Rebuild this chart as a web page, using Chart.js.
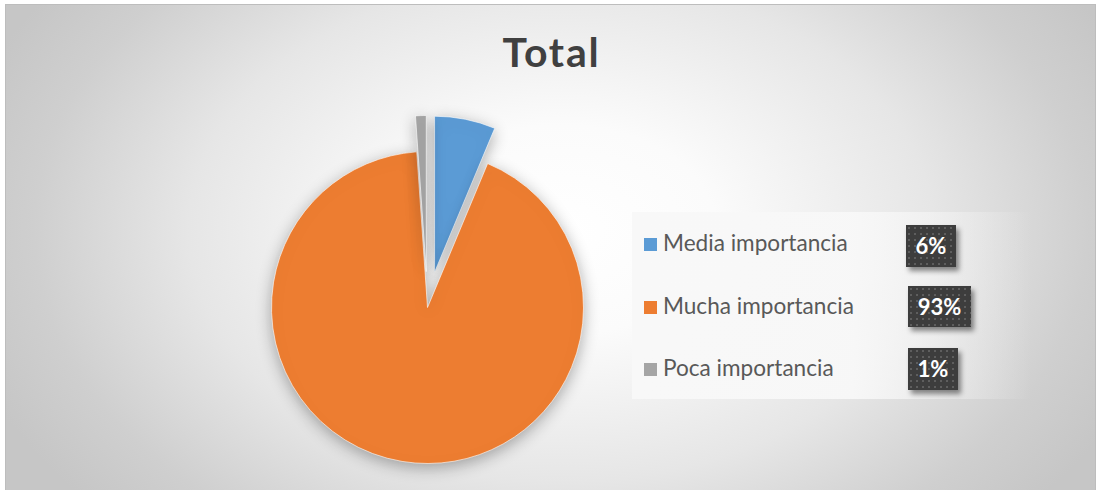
<!DOCTYPE html>
<html>
<head>
<meta charset="utf-8">
<script src="https://cdn.jsdelivr.net/npm/chart.js@4.4.1/dist/chart.umd.min.js"></script>
<style>
  html, body { margin:0; padding:0; width:1097px; height:490px; overflow:hidden; background:#ffffff; font-family: Lato, "Open Sans", sans-serif; }
  #frame { position:absolute; left:5px; top:4px; width:1089px; height:500px; border:1px solid #bdbdbd;
    background: radial-gradient(ellipse 620px 420px at 555px 225px, #ffffff 0%, #fbfbfb 25%, #e6e6e6 60%, #cfcfcf 85%, #c6c6c6 100%); }
  #title { position:absolute; left:0; width:1103px; top:32px; text-align:center; font-size:41px; line-height:40px; font-weight:bold; color:#404040; letter-spacing:1.8px; }
  #legendBox { position:absolute; left:632px; top:212px; width:400px; height:187px;
    background: linear-gradient(to right, rgba(248,248,248,1) 0%, rgba(248,248,248,0.95) 55%, rgba(248,248,248,0) 100%); }
  .row { position:absolute; font-size:22.6px; line-height:23px; color:#595959; white-space:nowrap; }
  .mk { position:absolute; width:13px; height:13px; }
  .lbl { position:absolute; color:#ffffff; font-weight:bold; font-size:22px; text-align:center;
    background-color:#3d3d3d;
    background-image: radial-gradient(circle, rgba(120,120,120,0.55) 0.9px, transparent 1.3px);
    background-size:6px 6px;
    box-shadow: 3px 4px 5px rgba(0,0,0,0.45); }
  #c { position:absolute; left:0; top:0; }
</style>
</head>
<body>
<div id="frame"></div>
<div id="title"></div>
<div id="legendBox"></div>
<div id="legend"></div>
<canvas id="c" width="1097" height="490"></canvas>
<script>
// ---- data ----
const chartTitle = 'Total';
const categories = ['Media importancia', 'Mucha importancia', 'Poca importancia'];
const values = [6.3, 92.6, 1.1];
const percentLabels = ['6%', '93%', '1%'];
const sliceColors = ['#5b9bd5', '#ed7d31', '#a5a5a5'];

// ---- layout (styles) ----
const explodeDistance = [36, 0, 36];
const rowBaselines = [250, 313, 375];
const labelBoxes = [
  {left:906, top:225, w:50, h:42},
  {left:908, top:286, w:63, h:41},
  {left:908, top:348, w:50, h:42}
];

document.getElementById('title').textContent = chartTitle;

const legend = document.getElementById('legend');
categories.forEach((name, i) => {
  const mk = document.createElement('div');
  mk.className = 'mk';
  mk.style.left = '644px';
  mk.style.top = (rowBaselines[i] - 12) + 'px';
  mk.style.background = sliceColors[i];
  legend.appendChild(mk);

  const t = document.createElement('div');
  t.className = 'row';
  t.style.left = '663px';
  t.style.top = (rowBaselines[i] - 19) + 'px';
  t.textContent = name;
  legend.appendChild(t);

  const b = labelBoxes[i];
  const l = document.createElement('div');
  l.className = 'lbl';
  l.style.left = b.left + 'px';
  l.style.top = b.top + 'px';
  l.style.width = b.w + 'px';
  l.style.height = b.h + 'px';
  l.style.lineHeight = b.h + 'px';
  l.textContent = percentLabels[i];
  legend.appendChild(l);
});

// explode slices: move each arc's centre along its bisector
const explodePlugin = {
  id: 'explode',
  afterDatasetsUpdate(chart) {
    const meta = chart.getDatasetMeta(0);
    meta.data.forEach((arc, i) => {
      const d = explodeDistance[i] || 0;
      if (!d) return;
      const half = (arc.startAngle + arc.endAngle) / 2;
      arc.x += Math.cos(half) * d;
      arc.y += Math.sin(half) * d;
    });
  }
};

const shadowPlugin = {
  id: 'pieShadow',
  beforeDatasetsDraw(chart) {
    const ctx = chart.ctx;
    ctx.save();
    ctx.shadowColor = 'rgba(0,0,0,0.32)';
    ctx.shadowBlur = 16;
    ctx.shadowOffsetX = 0;
    ctx.shadowOffsetY = 4;
  },
  afterDatasetsDraw(chart) {
    chart.ctx.restore();
  }
};

new Chart(document.getElementById('c'), {
  type: 'pie',
  data: {
    labels: categories,
    datasets: [{
      data: values,
      backgroundColor: sliceColors,
      borderColor: 'rgba(255,255,255,0.6)',
      borderWidth: 1,
      clip: false
    }]
  },
  options: {
    responsive: false,
    devicePixelRatio: 1,
    animation: false,
    layout: { padding: { left: 271, right: 513, top: 151, bottom: 26 } },
    plugins: {
      legend: { display: false },
      title: { display: false },
      tooltip: { enabled: false }
    }
  },
  plugins: [explodePlugin, shadowPlugin]
});
</script>
</body>
</html>
